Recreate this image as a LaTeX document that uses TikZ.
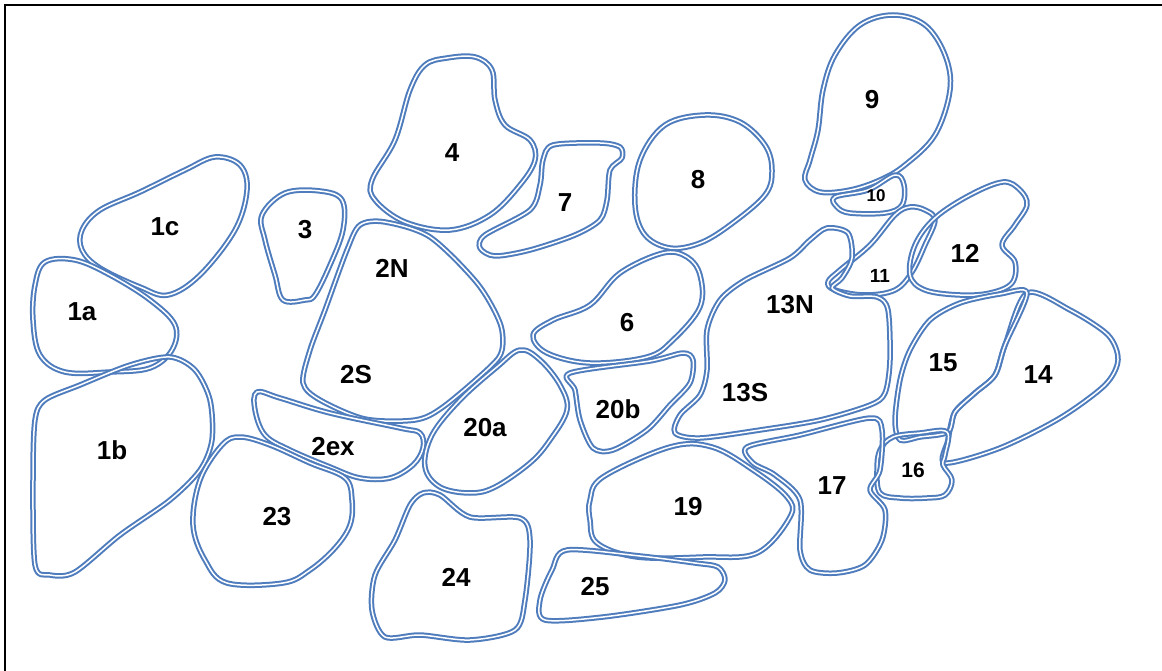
\documentclass[tikz,border=0pt]{standalone}
\usepackage{fontspec}
\setmainfont{Liberation Sans}
\definecolor{blobblue}{RGB}{78,124,188}
\begin{document}
\begin{tikzpicture}[x=1pt, y=-1pt,
  blob/.style={draw=blobblue, line width=2pt, double=white, double distance=1.5pt, line join=round},
  lbl/.style={font=\fontsize{26}{26}\selectfont\bfseries},
  sml/.style={font=\fontsize{19}{19}\selectfont\bfseries}]
\useasboundingbox (0,0) rectangle (1162,671);
\draw[line width=2pt](5,671)--(5,5)--(1162,5);
% left group
\draw[blob]plot[smooth cycle, tension=.6]coordinates{(215,157)(240,165)(247,190)(235,230)(200,275)(168,295)(140,287)(100,268)(82,250)(82,230)(100,210)(140,192)(185,170)};
\draw[blob]plot[smooth cycle, tension=.6]coordinates{(45,262)(75,260)(110,275)(150,300)(175,325)(172,350)(150,368)(110,372)(65,372)(40,355)(33,320)(35,285)};
\draw[blob]plot[smooth cycle, tension=.5]coordinates{(170,357)(195,370)(210,400)(212,440)(200,470)(170,500)(120,535)(75,572)(50,575)(35,565)(33,480)(35,420)(45,400)(80,385)(130,365)};
\draw[blob]plot[smooth cycle, tension=.6]coordinates{(285,193)(320,191)(342,200)(343,230)(330,265)(315,295)(305,300)(283,300)(275,275)(265,240)(262,215)};
\draw[blob]plot[smooth cycle, tension=.5]coordinates{(360,225)(385,222)(430,237)(477,283)(500,323)(502,350)(490,367)(443,407)(415,420)(365,419)(320,400)(303,383)(310,350)(325,310)(347,250)};
\draw[blob]plot[smooth cycle, tension=.6]coordinates{(257,392)(280,398)(330,413)(400,428)(420,433)(423,448)(413,465)(390,478)(360,478)(330,467)(290,450)(265,435)(255,410)};
\draw[blob]plot[smooth cycle, tension=.6]coordinates{(240,437)(270,445)(310,463)(345,478)(352,500)(350,525)(335,548)(310,570)(283,583)(227,583)(205,560)(193,525)(200,480)(222,445)};
% middle group
\draw[blob]plot[smooth cycle, tension=.6]coordinates{(447,58)(475,57)(492,70)(495,100)(505,125)(530,140)(535,160)(520,185)(490,215)(450,230)(405,222)(375,200)(372,180)(395,140)(410,90)(425,65)};
\draw[blob]plot[smooth cycle, tension=.5]coordinates{(553,145)(600,143)(620,147)(622,158)(610,170)(607,200)(600,220)(575,235)(530,250)(495,256)(480,248)(485,235)(530,210)(540,185)(543,160)};
\draw[blob]plot[smooth cycle, tension=.6]coordinates{(705,115)(740,122)(765,145)(772,170)(765,195)(730,225)(700,243)(670,248)(645,235)(635,205)(640,160)(665,125)};
\draw[blob]plot[smooth cycle, tension=.6]coordinates{(663,253)(687,257)(700,275)(700,307)(673,340)(647,357)(590,363)(547,353)(533,335)(553,320)(590,305)(620,273)};
\draw[blob]plot[smooth cycle, tension=.6]coordinates{(520,350)(540,360)(560,385)(567,410)(550,440)(530,463)(495,487)(470,493)(440,487)(425,467)(432,435)(460,400)(497,367)};
\draw[blob]plot[smooth cycle, tension=.5]coordinates{(570,373)(650,361)(683,353)(693,360)(690,383)(670,405)(647,430)(613,450)(593,448)(580,420)(575,390)};
\draw[blob]plot[smooth cycle, tension=.5]coordinates{(423,493)(440,495)(470,517)(520,518)(530,540)(525,600)(515,630)(470,640)(420,635)(385,637)(372,610)(375,575)(395,540)(410,505)};
\draw[blob]plot[smooth cycle, tension=.6]coordinates{(670,447)(712,447)(753,470)(787,497)(790,517)(757,553)(703,557)(637,557)(597,543)(590,520)(590,500)(603,477)};
\draw[blob]plot[smooth cycle, tension=.5]coordinates{(567,550)(640,556)(695,563)(718,567)(725,580)(715,593)(680,605)(603,617)(545,620)(540,600)(552,570)};
% right group
\draw[blob]plot[smooth cycle, tension=.6]coordinates{(893,15)(925,25)(945,55)(950,90)(935,135)(905,165)(880,180)(850,190)(820,192)(805,180)(810,160)(818,130)(823,90)(835,55)(860,25)};
\draw[blob]plot[smooth cycle, tension=.6]coordinates{(835,197)(868,190)(895,175)(904,185)(902,205)(885,213)(850,213)(837,207)};
\draw[blob]plot[smooth cycle, tension=.6]coordinates{(910,207)(925,210)(935,220)(925,245)(912,272)(895,290)(865,295)(835,290)(828,282)(840,270)(870,245)(895,215)};
\draw[blob]plot[smooth cycle, tension=.6]coordinates{(1003,182)(1020,190)(1027,205)(1015,225)(1002,245)(1015,262)(1012,283)(990,293)(960,295)(925,290)(910,275)(915,245)(935,218)(970,195)};
\draw[blob]plot[smooth cycle, tension=.5]coordinates{(827,228)(848,233)(852,258)(842,278)(832,288)(850,296)(877,297)(888,310)(890,360)(885,393)(870,405)(820,420)(760,430)(700,438)(675,433)(680,415)(700,395)(707,370)(707,330)(720,300)(745,280)(790,258)(810,240)};
\draw[blob]plot[smooth cycle, tension=.5]coordinates{(1027,293)(1070,310)(1108,335)(1118,360)(1105,385)(1060,418)(1000,448)(945,463)(948,440)(955,412)(975,393)(995,375)(1005,345)};
\draw[blob]plot[smooth cycle, tension=.5]coordinates{(1000,294)(1027,293)(1005,345)(995,375)(975,393)(955,412)(948,432)(920,437)(900,440)(895,420)(900,380)(910,350)(930,320)(960,303)};
\draw[blob]plot[smooth cycle, tension=.6]coordinates{(893,437)(920,433)(947,432)(945,455)(943,465)(952,480)(945,495)(927,498)(900,498)(880,493)(877,470)(880,450)};
\draw[blob]plot[smooth cycle, tension=.5]coordinates{(747,447)(800,435)(870,418)(882,430)(880,470)(870,490)(885,510)(882,540)(865,565)(837,573)(810,570)(800,550)(800,500)(775,475)(753,463)};
% labels
\node[lbl](l1c) at (165,227){1c};
\node[lbl](l1a) at (82,312){1a};
\node[lbl](l1b) at (112,450){1b};
\node[lbl](l3) at (305,230){3};
\node[lbl](l2N) at (392,268){2N};
\node[lbl](l2S) at (356,375){2S};
\node[lbl](l2ex) at (333,447){2ex};
\node[lbl](l23) at (277,517){23};
\node[lbl](l4) at (452,153){4};
\node[lbl](l7) at (565,203){7};
\node[lbl](l8) at (698,180){8};
\node[lbl](l6) at (627,323){6};
\node[lbl](l20a) at (485,428){20a};
\node[lbl](l20b) at (618,409){20b};
\node[lbl](l24) at (456,577){24};
\node[lbl](l19) at (688,507){19};
\node[lbl](l25) at (595,587){25};
\node[lbl](l9) at (872,100){9};
\node[sml, font=\fontsize{17}{17}\selectfont\bfseries](l10) at (876,196){10};
\node[sml](l11) at (880,276){11};
\node[lbl](l12) at (965,253){12};
\node[lbl](l13N) at (790,305){13N};
\node[lbl](l13S) at (745,393){13S};
\node[lbl](l14) at (1038,375){14};
\node[lbl](l15) at (943,363){15};
\node[sml, font=\fontsize{21}{21}\selectfont\bfseries](l16) at (913,470){16};
\node[lbl](l17) at (832,486){17};
\end{tikzpicture}
\end{document}
